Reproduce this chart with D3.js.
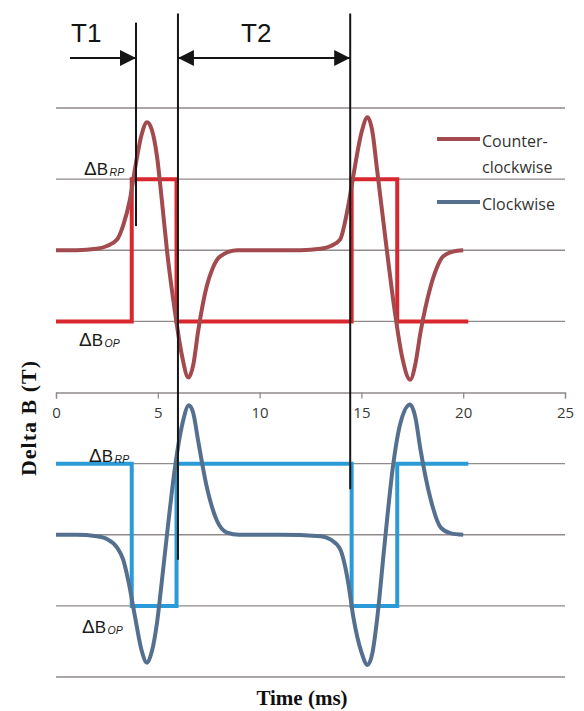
<!DOCTYPE html>
<html>
<head>
<meta charset="utf-8">
<script src="https://cdn.jsdelivr.net/npm/d3@7"></script>
<style>
  html, body { margin: 0; padding: 0; background: #ffffff; }
  svg { display: block; }
</style>
</head>
<body>
<svg id="chart" width="584" height="711"></svg>
<script>
// ---------------- data ----------------
const xTicks = [0, 5, 10, 15, 20, 25];
const gridLevels = [4, 3, 2, 1, -1, -2, -3, -4];

// Counter-clockwise (red) sensor signal: [time ms, delta B]
const ccwTime  = [0, 1, 2, 2.5, 3.0, 3.3, 3.63, 3.9, 4.2, 4.47, 4.7, 4.96, 5.2, 5.45, 5.85, 6.2, 6.5, 6.75, 6.97, 7.4, 7.7, 8.05, 8.9, 10, 12, 13.0, 13.5, 13.95, 14.35, 14.6, 15.0, 15.3, 15.55, 15.75, 16.25, 16.65, 17.0, 17.4, 17.65, 17.9, 18.4, 18.7, 19.0, 19.5, 20.0];
const ccwValue = [2.0, 2.0, 2.02, 2.06, 2.15, 2.35, 2.71, 3.18, 3.62, 3.8, 3.7, 3.32, 2.7, 2.0, 1.12, 0.5, 0.21, 0.4, 0.84, 1.49, 1.75, 1.91, 2.0, 2.0, 2.0, 2.02, 2.06, 2.15, 2.62, 3.04, 3.65, 3.87, 3.65, 3.18, 2.0, 1.12, 0.5, 0.18, 0.4, 0.84, 1.49, 1.75, 1.91, 1.98, 2.0];

// Clockwise (blue) sensor signal
const cwTime  = [0, 1, 2, 2.5, 3.0, 3.3, 3.54, 3.88, 4.2, 4.47, 4.7, 4.96, 5.2, 5.45, 5.85, 6.2, 6.53, 6.75, 6.97, 7.4, 7.9, 8.4, 9, 11, 13.0, 13.5, 13.95, 14.35, 14.6, 15.0, 15.3, 15.55, 15.75, 16.15, 16.55, 16.9, 17.4, 17.65, 17.9, 18.4, 18.9, 19.4, 20.0];
const cwValue = [-2.0, -2.0, -2.02, -2.06, -2.18, -2.35, -2.63, -3.15, -3.62, -3.8, -3.65, -3.24, -2.65, -2.0, -1.04, -0.45, -0.18, -0.3, -0.66, -1.32, -1.8, -1.97, -2.0, -2.0, -2.02, -2.07, -2.2, -2.67, -3.15, -3.65, -3.83, -3.65, -3.24, -2.1, -1.04, -0.45, -0.17, -0.35, -0.8, -1.5, -1.9, -1.98, -2.0];

// Switch outputs (square waves): step times and levels
const stepTime   = [0, 3.72, 5.92, 14.52, 16.76, 20.25];
const ccwSwitch  = [1, 3, 1, 3, 1, 1];
const cwSwitch   = [-1, -3, -1, -3, -1, -1];

// Annotation markers (ms) and their vertical extents (delta B units)
const markerTime = [3.93, 5.99, 14.45];
const markerTop  = [5.2, 5.33, 5.33];
const markerBot  = [2.34, -2.35, -1.36];

const legendLabels = [["Counter-", "clockwise"], ["Clockwise"]];

// ---------------- drawing ----------------
const svg = d3.select("#chart");
const x = d3.scaleLinear().domain([0, 25]).range([56, 565]);
const y = d3.scaleLinear().domain([-4, 4]).range([677, 108]);

const gridColor = "#918a8a";

// gridlines
svg.append("g").selectAll("line").data(gridLevels).join("line")
  .attr("x1", x(0)).attr("x2", x(25))
  .attr("y1", d => y(d)).attr("y2", d => y(d))
  .attr("stroke", gridColor).attr("stroke-width", 1.3);

// x axis at 0
const xAxis = d3.axisBottom(x).tickValues(xTicks).tickSize(6).tickPadding(9).tickFormat(d3.format("d"));
const ax = svg.append("g").attr("transform", `translate(0,${y(0)})`).call(xAxis);
ax.select(".domain").attr("stroke", gridColor).attr("stroke-width", 1.3);
ax.selectAll(".tick line").attr("stroke", gridColor).attr("stroke-width", 1.3);
ax.selectAll(".tick text").attr("font-family", "'Open Sans', sans-serif").attr("font-size", 15).attr("fill", "#3a3a3a");

// square waves
const stepLine = d3.line().x(d => x(d[0])).y(d => y(d[1])).curve(d3.curveStepAfter);
svg.append("path").datum(stepTime.map((t, i) => [t, ccwSwitch[i]]))
  .attr("d", stepLine).attr("fill", "none").attr("stroke", "#d8272e").attr("stroke-width", 4);
svg.append("path").datum(stepTime.map((t, i) => [t, cwSwitch[i]]))
  .attr("d", stepLine).attr("fill", "none").attr("stroke", "#2a9bd6").attr("stroke-width", 4);

// sensor curves
const smooth = d3.line().x(d => x(d[0])).y(d => y(d[1])).curve(d3.curveMonotoneX);
svg.append("path").datum(ccwTime.map((t, i) => [t, ccwValue[i]]))
  .attr("d", smooth).attr("fill", "none").attr("stroke", "#a24a4d").attr("stroke-width", 4).attr("stroke-linejoin", "round");
svg.append("path").datum(cwTime.map((t, i) => [t, cwValue[i]]))
  .attr("d", smooth).attr("fill", "none").attr("stroke", "#55708f").attr("stroke-width", 4).attr("stroke-linejoin", "round");

// marker lines
svg.append("g").selectAll("line").data(markerTime).join("line")
  .attr("x1", d => x(d)).attr("x2", d => x(d))
  .attr("y1", (d, i) => y(markerTop[i])).attr("y2", (d, i) => y(markerBot[i]))
  .attr("stroke", "#151515").attr("stroke-width", 2);

// arrows
const defs = svg.append("defs");
defs.append("marker").attr("id", "ah").attr("viewBox", "0 0 16 16")
  .attr("refX", 16).attr("refY", 8).attr("markerWidth", 16).attr("markerHeight", 16)
  .attr("markerUnits", "userSpaceOnUse").attr("orient", "auto-start-reverse")
  .append("path").attr("d", "M0,0 L16,8 L0,16 Z").attr("fill", "#151515");

const arrowY = 58;
svg.append("line").attr("x1", 70).attr("x2", x(markerTime[0])).attr("y1", arrowY).attr("y2", arrowY)
  .attr("stroke", "#151515").attr("stroke-width", 2).attr("marker-end", "url(#ah)");
svg.append("line").attr("x1", x(markerTime[1])).attr("x2", x(markerTime[2])).attr("y1", arrowY).attr("y2", arrowY)
  .attr("stroke", "#151515").attr("stroke-width", 2)
  .attr("marker-start", "url(#ah)").attr("marker-end", "url(#ah)");

svg.append("text").attr("x", 71).attr("y", 42).text("T1")
  .attr("font-family", "'Liberation Sans', Arial, sans-serif").attr("font-size", 26).attr("fill", "#151515");
svg.append("text").attr("x", 241).attr("y", 42).text("T2")
  .attr("font-family", "'Liberation Sans', Arial, sans-serif").attr("font-size", 26).attr("fill", "#151515");

// delta B labels
const dbLabels = [
  {x: 84, y: 175, sub: "RP"},
  {x: 79, y: 346, sub: "OP"},
  {x: 89, y: 462, sub: "RP"},
  {x: 82, y: 633, sub: "OP"}
];
dbLabels.forEach(l => {
  const t = svg.append("text").attr("x", l.x).attr("y", l.y)
    .attr("font-family", "'Liberation Sans', Arial, sans-serif").attr("font-size", 17).attr("fill", "#1a1a1a");
  t.append("tspan").text("Δ").attr("font-size", 19);
  t.append("tspan").text("B");
  t.append("tspan").text(l.sub).attr("font-size", 10.5).attr("font-style", "italic").attr("dx", 1.5).attr("dy", 1);
});

// legend
const legendY = [139, 202];
const legendColors = ["#a24a4d", "#55708f"];
legendY.forEach((ly, i) => {
  svg.append("line").attr("x1", 437).attr("x2", 480).attr("y1", ly).attr("y2", ly)
    .attr("stroke", legendColors[i]).attr("stroke-width", 4);
  const t = svg.append("text").attr("x", 482).attr("y", ly + 8)
    .attr("font-family", "'Open Sans', sans-serif").attr("font-size", 16).attr("fill", "#333");
  legendLabels[i].forEach((s, j) => {
    t.append("tspan").attr("x", 482).attr("dy", j === 0 ? 0 : 26).text(s);
  });
});

// axis titles
svg.append("text").attr("x", 302).attr("y", 705).attr("text-anchor", "middle")
  .attr("font-family", "'Liberation Serif', 'Times New Roman', serif").attr("font-weight", "bold")
  .attr("font-size", 21).attr("fill", "#111").text("Time (ms)");
svg.append("text").attr("transform", "translate(36,418) rotate(-90)").attr("text-anchor", "middle")
  .attr("font-family", "'Liberation Serif', 'Times New Roman', serif").attr("font-weight", "bold")
  .attr("font-size", 22).attr("letter-spacing", 1).attr("fill", "#111").text("Delta B (T)");
</script>
</body>
</html>
